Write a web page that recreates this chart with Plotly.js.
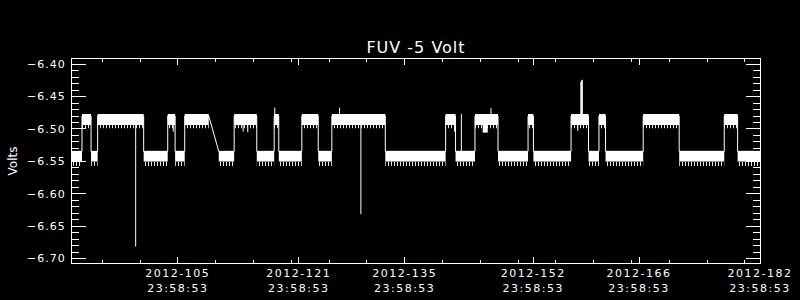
<!DOCTYPE html>
<html>
<head>
<meta charset="utf-8">
<script src="https://cdn.plot.ly/plotly-3.0.1.min.js"></script>
<style>
  html, body { margin: 0; padding: 0; background: #000; }
  #chart { width: 800px; height: 300px; }
  #chart .xtick text { letter-spacing: 1.5px; }
  #chart .ytick text { letter-spacing: 1px; }
  #chart .gtitle { letter-spacing: 1px; }
</style>
</head>
<body>
<div id="chart"></div>
<script>
// ---- Data (x = day of year 2012) ----
const segStart = [91.00, 92.32, 93.52, 94.39, 100.48, 103.66, 104.64, 105.91, 110.41, 112.45, 115.44, 117.74, 118.35, 121.40, 123.57, 125.37, 132.44, 140.42, 141.73, 144.30, 147.35, 151.32, 152.03, 157.01, 159.32, 160.70, 161.57, 166.55, 171.31, 177.27, 179.04];
const segEnd   = [92.32, 93.52, 94.39, 100.48, 103.66, 104.64, 105.91, 109.09, 112.45, 115.44, 117.74, 118.35, 121.40, 123.57, 125.37, 132.44, 140.42, 141.73, 144.30, 147.35, 151.32, 152.03, 157.01, 159.32, 160.70, 161.57, 166.55, 171.31, 177.27, 179.04, 182.00];
const segHigh  = [0, 1, 0, 1, 0, 1, 0, 1, 0, 1, 0, 1, 0, 1, 0, 1, 0, 1, 0, 1, 0, 1, 0, 1, 0, 1, 0, 1, 0, 1, 0];

// band limits of the two voltage states (Volts)
const highTop = -6.4767, highBottom = -6.4937, highSparse = -6.4990, highLine = -6.4800;
const lowTop  = -6.5338, lowBottom  = -6.5503, lowSparse  = -6.5570, lowLine  = -6.5345;

// isolated spikes
const spikeDay   = [99.42, 129.21, 117.82, 126.39, 142.50, 146.42, 158.30, 158.40, 158.50, 104.40, 113.64, 114.25, 141.60, 157.90];
const spikeBase  = [-6.490, -6.490, -6.480, -6.480, -6.535, -6.480, -6.480, -6.480, -6.480, -6.490, -6.490, -6.490, -6.490, -6.490];
const spikeValue = [-6.6815, -6.6315, -6.4670, -6.4670, -6.4770, -6.4680, -6.4275, -6.4250, -6.4240, -6.5040, -6.5040, -6.5050, -6.5040, -6.5030];

// short dip below the upper band
const dipStart = [145.32], dipEnd = [145.99], dipBottom = [-6.5056];

// axis ticks
const majorDays = [105, 121, 135, 152, 166, 182];
const majorLabels = ['2012-105', '2012-121', '2012-135', '2012-152', '2012-166', '2012-182'];
const tickTime = '23:58:53';
const minorDays = [95, 100, 105, 110, 115, 120, 125, 130, 135, 140, 145, 150, 155, 160, 165, 170, 175, 180];

// ---- build traces ----
function rects(starts, ends, tops, bottoms) {
  const x = [], y = [];
  for (let i = 0; i < starts.length; i++) {
    x.push(starts[i], ends[i], ends[i], starts[i], starts[i], null);
    y.push(tops[i], tops[i], bottoms[i], bottoms[i], tops[i], null);
  }
  return {x, y};
}
const tops = segHigh.map(h => h ? highTop : lowTop);
const bots = segHigh.map(h => h ? highBottom : lowBottom);
const sparseBots = segHigh.map(h => h ? highSparse : lowSparse);

const solid = rects(segStart, segEnd, tops, bots);
const sparse = rects(segStart, segEnd, bots, sparseBots);
const dip = rects(dipStart, dipEnd, dipStart.map(() => highBottom), dipBottom);

const stepX = [], stepY = [];
for (let i = 0; i < segStart.length; i++) {
  const lv = segHigh[i] ? highLine : lowLine;
  stepX.push(segStart[i], segEnd[i]);
  stepY.push(lv, lv);
}
const spX = [], spY = [];
for (let i = 0; i < spikeDay.length; i++) {
  spX.push(spikeDay[i], spikeDay[i], null);
  spY.push(spikeBase[i], spikeValue[i], null);
}

const W = 'white';
const traces = [
  {x: solid.x, y: solid.y, mode: 'lines', fill: 'toself', fillcolor: W, line: {width: 0, color: W}, hoverinfo: 'skip', showlegend: false},
  {x: sparse.x, y: sparse.y, mode: 'lines', fill: 'toself', fillcolor: 'rgba(0,0,0,0)',
   fillpattern: {shape: '|', size: 3, solidity: 0.3, fgcolor: W, bgcolor: 'rgba(0,0,0,0)'},
   line: {width: 0, color: W}, hoverinfo: 'skip', showlegend: false},
  {x: dip.x, y: dip.y, mode: 'lines', fill: 'toself', fillcolor: W, line: {width: 0, color: W}, hoverinfo: 'skip', showlegend: false},
  {x: stepX, y: stepY, mode: 'lines', line: {width: 1, color: W}, hoverinfo: 'skip', showlegend: false},
  {x: spX, y: spY, mode: 'lines', line: {width: 1, color: W}, hoverinfo: 'skip', showlegend: false}
];

const FONT = 'DejaVu Sans, Liberation Sans, sans-serif';
const layout = {
  width: 800, height: 300,
  paper_bgcolor: '#000', plot_bgcolor: '#000',
  margin: {l: 72, r: 40, t: 59, b: 37, pad: 0},
  showlegend: false,
  title: {text: 'FUV -5 Volt', font: {family: FONT, size: 16, color: W},
          xref: 'paper', x: 0.5, xanchor: 'center', yref: 'container', y: 0.843, yanchor: 'middle'},
  xaxis: {
    range: [91, 182], showgrid: false, zeroline: false,
    showline: true, linecolor: W, linewidth: 1, mirror: 'ticks',
    tickmode: 'array', tickvals: majorDays, ticktext: majorLabels.map(l => l + '<br>' + tickTime),
    ticks: 'inside', ticklen: 6, tickwidth: 1, tickcolor: W,
    tickfont: {family: FONT, size: 11, color: W},
    minor: {tickmode: 'array', tickvals: minorDays, ticks: 'inside', ticklen: 3, tickwidth: 1, tickcolor: W, showgrid: false}
  },
  yaxis: {
    range: [-6.7068, -6.3920], showgrid: false, zeroline: false,
    showline: true, linecolor: W, linewidth: 1, mirror: 'ticks',
    tickmode: 'linear', tick0: -6.40, dtick: 0.05, tickformat: '.2f',
    ticks: 'inside', ticklen: 14, tickwidth: 1, tickcolor: W,
    ticklabelstandoff: 3,
    tickfont: {family: FONT, size: 11, color: W},
    minor: {tick0: -6.40, dtick: 0.01, ticks: 'inside', ticklen: 7, tickwidth: 1, tickcolor: W, showgrid: false},
    title: {text: 'Volts', font: {family: FONT, size: 12, color: W}, standoff: 11}
  }
};

Plotly.newPlot('chart', traces, layout, {staticPlot: true, displayModeBar: false});
</script>
</body>
</html>
